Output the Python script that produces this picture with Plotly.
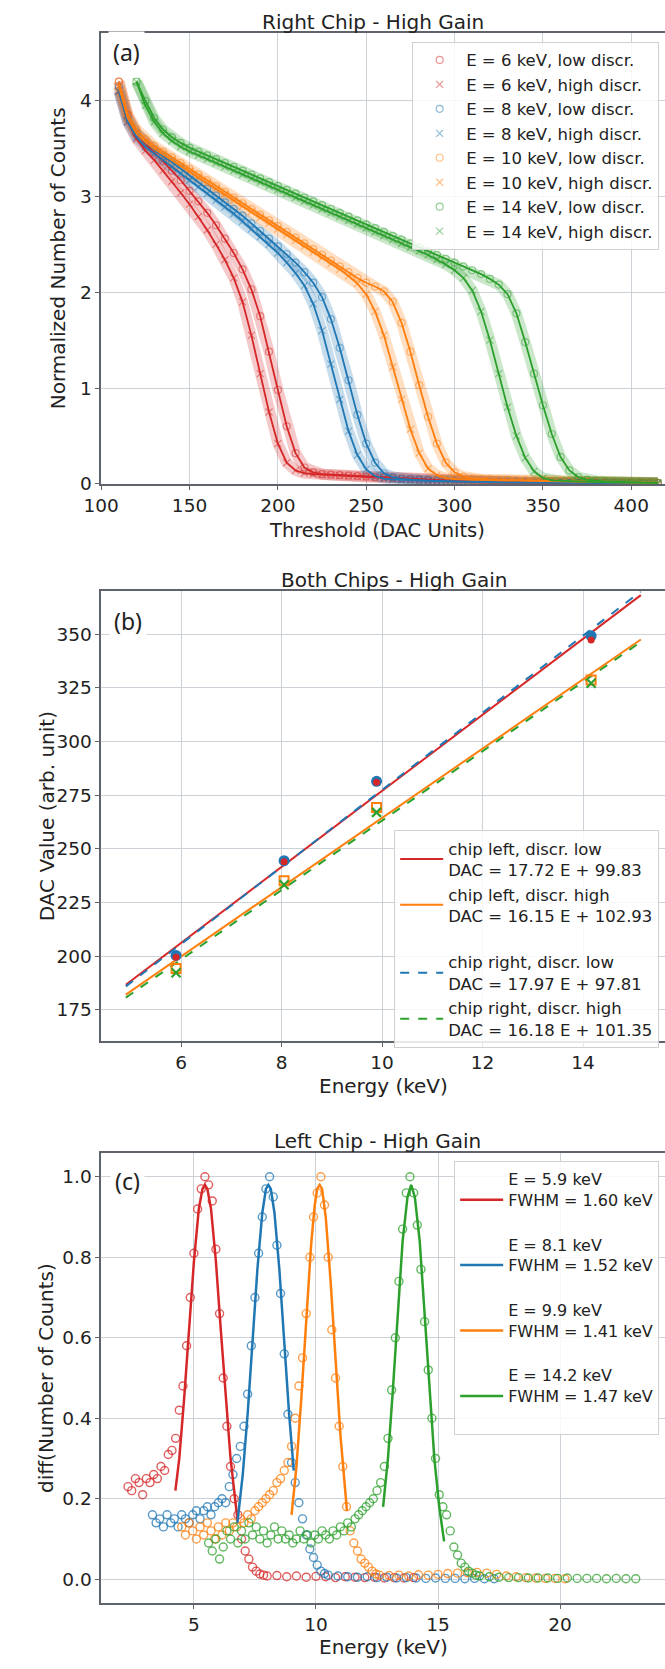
import plotly.graph_objects as go

W, H = 665, 1669
FONT = "DejaVu Sans"
RED, BLUE, ORANGE, GREEN = "#d62728", "#1f77b4", "#ff7f0e", "#2ca02c"

# ---------------- Panel (a): threshold scans, right chip ----------------
DAC = list(range(110, 420, 5))
red_low = [4.20,3.85,3.66,3.55,3.46,3.37,3.27,3.17,3.06,2.95,
           2.83,2.70,2.56,2.41,2.24,2.03,1.75,1.38,0.98,0.60,
           0.32,0.17,0.12,0.10,0.095,0.09,0.085,0.08,0.075,0.07,
           0.065,0.06,0.055,0.05,0.045,0.04,0.035,0.03,0.025,0.02,
           0.018,0.016,0.015,0.014,0.013,0.012,0.012,0.011,0.011,0.01,
           0.01,0.01,0.009,0.009,0.009,0.008,0.008,0.008,0.008,0.007,
           0.007,0.007]
red_high = [4.10,3.78,3.60,3.48,3.38,3.27,3.16,3.04,2.92,2.79,
            2.65,2.50,2.34,2.15,1.90,1.55,1.15,0.75,0.42,0.22,
            0.14,0.11,0.10,0.095,0.09,0.085,0.08,0.075,0.07,0.065,
            0.06,0.055,0.05,0.045,0.04,0.035,0.03,0.025,0.02,0.018,
            0.016,0.015,0.014,0.013,0.012,0.012,0.011,0.011,0.01,0.01,
            0.01,0.009,0.009,0.009,0.008,0.008,0.008,0.008,0.007,0.007,
            0.007,0.007]
blue_low = [4.15,3.82,3.66,3.56,3.49,3.42,3.36,3.29,3.22,3.15,
            3.08,3.01,2.94,2.87,2.80,2.72,2.64,2.56,2.48,2.40,
            2.31,2.21,2.10,1.95,1.72,1.42,1.08,0.72,0.42,0.22,
            0.11,0.07,0.05,0.042,0.038,0.034,0.03,0.027,0.024,0.021,
            0.019,0.017,0.016,0.015,0.014,0.013,0.012,0.011,0.011,0.01,
            0.01,0.009,0.009,0.009,0.008,0.008,0.008,0.007,0.007,0.007,
            0.006,0.006]
blue_high = [4.10,3.78,3.62,3.52,3.45,3.38,3.31,3.24,3.17,3.10,
             3.03,2.96,2.89,2.82,2.74,2.66,2.58,2.50,2.41,2.31,
             2.20,2.07,1.88,1.60,1.25,0.88,0.55,0.30,0.15,0.08,
             0.055,0.045,0.04,0.037,0.034,0.031,0.028,0.025,0.022,0.02,
             0.018,0.016,0.015,0.014,0.013,0.012,0.011,0.011,0.01,0.01,
             0.009,0.009,0.009,0.008,0.008,0.008,0.007,0.007,0.007,0.006,
             0.006,0.006]
orange_low = [4.20,3.86,3.70,3.60,3.53,3.47,3.41,3.35,3.29,3.23,
              3.17,3.11,3.05,2.99,2.93,2.87,2.81,2.75,2.69,2.63,
              2.57,2.51,2.45,2.39,2.33,2.27,2.21,2.15,2.10,2.06,
              2.01,1.90,1.68,1.38,1.03,0.70,0.42,0.22,0.12,0.075,
              0.055,0.048,0.045,0.042,0.04,0.038,0.036,0.034,0.032,0.03,
              0.028,0.026,0.024,0.022,0.02,0.018,0.016,0.015,0.014,0.013,
              0.012,0.011]
orange_high = [4.15,3.82,3.66,3.57,3.50,3.44,3.38,3.32,3.26,3.20,
               3.14,3.08,3.02,2.96,2.90,2.84,2.78,2.72,2.66,2.60,
               2.54,2.48,2.42,2.36,2.30,2.24,2.17,2.09,1.98,1.80,
               1.55,1.22,0.88,0.57,0.32,0.16,0.09,0.06,0.05,0.045,
               0.042,0.04,0.038,0.036,0.034,0.032,0.03,0.028,0.026,0.024,
               0.022,0.02,0.018,0.016,0.015,0.014,0.013,0.012,0.011,0.01,
               0.01,0.009]
green_low = [None,None,4.20,4.00,3.82,3.70,3.62,3.56,3.51,3.47,
             3.43,3.39,3.35,3.31,3.27,3.23,3.19,3.15,3.11,3.07,
             3.03,2.99,2.95,2.91,2.87,2.83,2.79,2.75,2.71,2.67,
             2.63,2.59,2.55,2.51,2.47,2.43,2.39,2.35,2.31,2.27,
             2.23,2.19,2.14,2.08,1.98,1.78,1.48,1.15,0.82,0.52,
             0.28,0.14,0.07,0.04,0.03,0.025,0.021,0.018,0.015,0.013,
             0.011,0.01]
green_high = [None,None,4.20,3.95,3.78,3.66,3.58,3.52,3.47,3.43,
              3.39,3.35,3.31,3.27,3.23,3.19,3.15,3.11,3.07,3.03,
              2.99,2.95,2.91,2.87,2.83,2.79,2.75,2.71,2.67,2.63,
              2.59,2.55,2.51,2.47,2.43,2.39,2.34,2.29,2.23,2.15,
              2.02,1.80,1.50,1.15,0.80,0.50,0.27,0.13,0.06,0.035,
              0.03,0.027,0.024,0.021,0.018,0.016,0.014,0.012,0.011,0.01,
              0.009,0.008]

scan_series = [
    ("E = 6 keV, low discr.", RED, "circle-open", red_low),
    ("E = 6 keV, high discr.", RED, "x-thin-open", red_high),
    ("E = 8 keV, low discr.", BLUE, "circle-open", blue_low),
    ("E = 8 keV, high discr.", BLUE, "x-thin-open", blue_high),
    ("E = 10 keV, low discr.", ORANGE, "circle-open", orange_low),
    ("E = 10 keV, high discr.", ORANGE, "x-thin-open", orange_high),
    ("E = 14 keV, low discr.", GREEN, "circle-open", green_low),
    ("E = 14 keV, high discr.", GREEN, "x-thin-open", green_high),
]
for _, _, _, v in scan_series:
    assert len(v) == len(DAC)

# ---------------- Panel (b): calibration ----------------
E_pts = [5.9, 8.05, 9.89, 14.16]
left_low = [199.5, 244.0, 281.0, 347.4]
right_low = [200.3, 244.5, 281.5, 349.3]
left_high = [194.2, 235.1, 269.3, 328.7]
right_high = [192.2, 233.3, 267.0, 327.2]
fit_E = [4.9, 15.15]
fit_names = ["chip left, discr. low<br>DAC = 17.72 E + 99.83",
             "chip left, discr. high<br>DAC = 16.15 E + 102.93",
             "chip right, discr. low<br>DAC = 17.97 E + 97.81",
             "chip right, discr. high<br>DAC = 16.18 E + 101.35"]
fit_slope = [17.72, 16.15, 17.97, 16.18]
fit_icept = [99.83, 102.93, 97.81, 101.35]

# ---------------- Panel (c): differentiated spectra, left chip ----------------
red_c = [0.23,0.22,0.25,0.24,0.21,0.25,0.24,0.26,0.25,0.28,
         0.27,0.31,0.32,0.35,0.42,0.48,0.58,0.70,0.81,0.92,
         0.97,1.00,0.98,0.94,0.82,0.66,0.50,0.38,0.28,0.20,
         0.16,0.10,0.07,0.05,0.03,0.02,0.013,0.01,0.008]
red_tail = [0.009,0.006,0.008,0.005,0.007,0.006,0.004,0.006,0.005,0.004,
            0.005,0.003,0.004,0.003,0.004]
blue_c = [0.16,0.14,0.15,0.13,0.16,0.14,0.15,0.13,0.16,0.15,
          0.14,0.16,0.17,0.15,0.17,0.18,0.16,0.18,0.19,0.20,
          0.19,0.23,0.26,0.30,0.33,0.38,0.46,0.58,0.70,0.81,
          0.90,0.97,1.00,0.95,0.83,0.71,0.56,0.41,0.29,0.24,
          0.19,0.15,0.11,0.075,0.054,0.035,0.02,0.014,0.01]
blue_tail = [0.008,0.006,0.005,0.006,0.004,0.005,0.003,0.004,0.003,0.002,
             0.003,0.002,0.002,0.001,0.002,0.001,0.001]
orange_c = [0.13,0.11,0.14,0.12,0.10,0.13,0.11,0.14,0.12,0.10,
            0.13,0.11,0.14,0.12,0.14,0.13,0.15,0.14,0.16,0.15,
            0.17,0.18,0.19,0.20,0.21,0.22,0.24,0.25,0.27,0.29,
            0.33,0.40,0.48,0.55,0.66,0.80,0.90,0.96,1.00,0.93,
            0.80,0.62,0.50,0.38,0.28,0.18,0.12,0.09,0.07,0.05,
            0.04,0.03,0.02,0.013,0.01]
orange_tail = [0.009,0.01,0.008,0.011,0.01,0.012,0.014,0.015,0.016,0.017,
               0.015,0.012,0.008,0.006,0.004,0.003,0.002,0.002,0.001]
green_c = [0.09,0.07,0.10,0.05,0.08,0.12,0.10,0.13,0.09,0.12,
           0.10,0.14,0.11,0.13,0.10,0.12,0.09,0.11,0.13,0.10,
           0.12,0.10,0.11,0.09,0.10,0.12,0.10,0.11,0.09,0.11,
           0.10,0.12,0.11,0.10,0.12,0.11,0.13,0.12,0.14,0.13,
           0.15,0.16,0.17,0.18,0.19,0.20,0.22,0.24,0.28,0.35,
           0.47,0.60,0.74,0.87,0.96,1.00,0.96,0.88,0.77,0.64,
           0.52,0.40,0.30,0.21,0.18,0.16,0.12,0.08,0.06,0.04,
           0.03,0.02,0.015,0.01,0.008]
green_tail = [0.006,0.005,0.004,0.004,0.003,0.003,0.003,0.002,0.003,0.002,
              0.002,0.002,0.001,0.002,0.001,0.001]

# gaussian fit curves
red_fit_E = [4.24,4.4,4.6,4.8,5.0,5.2,5.35,5.45,5.55,5.7,5.9,6.1,6.3,6.5,6.78]
red_fit = [0.22,0.30,0.45,0.62,0.79,0.92,0.97,0.98,0.97,0.92,0.79,0.62,0.45,0.30,0.15]
blue_fit_E = [6.78,7.0,7.2,7.4,7.6,7.8,7.95,8.05,8.15,8.3,8.5,8.7,8.9,9.09]
blue_fit = [0.14,0.26,0.41,0.59,0.77,0.91,0.97,0.98,0.97,0.91,0.77,0.59,0.41,0.27]
orange_fit_E = [9.0,9.2,9.4,9.6,9.8,9.95,10.05,10.15,10.25,10.4,10.6,10.8,11.0,11.27]
orange_fit = [0.16,0.28,0.45,0.64,0.83,0.93,0.97,0.98,0.97,0.90,0.74,0.55,0.36,0.17]
green_fit_E = [12.75,12.95,13.15,13.35,13.55,13.75,13.9,14.05,14.25,14.45,14.65,14.85,15.05,15.25]
green_fit = [0.18,0.30,0.47,0.66,0.84,0.95,0.98,0.95,0.84,0.66,0.47,0.30,0.18,0.094]
spec_names = ["E = 5.9 keV<br>FWHM = 1.60 keV<br>\u00a0",
              "E = 8.1 keV<br>FWHM = 1.52 keV<br>\u00a0",
              "E = 9.9 keV<br>FWHM = 1.41 keV<br>\u00a0",
              "E = 14.2 keV<br>FWHM = 1.47 keV<br>\u00a0"]


def grid(start, step, n):
    return [round(start + step * i, 3) for i in range(n)]


def rgba(h, a):
    h = h.lstrip("#")
    return "rgba(%d,%d,%d,%.2f)" % (int(h[0:2], 16), int(h[2:4], 16), int(h[4:6], 16), a)


fig = go.Figure()

# ---- (a) traces
for name, col, sym, vals in scan_series:
    fig.add_trace(go.Scatter(x=DAC, y=vals, mode="lines", xaxis="x", yaxis="y",
                             line=dict(color=rgba(col, 0.25), width=11),
                             showlegend=False, hoverinfo="skip"))
for name, col, sym, vals in scan_series:
    fig.add_trace(go.Scatter(x=DAC, y=vals, mode="markers", xaxis="x", yaxis="y", name=name,
                             marker=dict(symbol=sym, size=7, color=rgba(col, 0.5),
                                         line=dict(width=1.2, color=rgba(col, 0.5))),
                             legend="legend"))
for name, col, sym, vals in scan_series:
    fig.add_trace(go.Scatter(x=DAC, y=vals, mode="lines", xaxis="x", yaxis="y",
                             line=dict(color=col, width=1.8), showlegend=False))

# ---- (b) traces
fit_styles = [(RED, "solid", "L"), (ORANGE, "solid", "L"), (BLUE, "dash", "R"), (GREEN, "dash", "R")]
for i, (col, dash, grp) in enumerate(fit_styles):
    fig.add_trace(go.Scatter(x=fit_E, y=[fit_slope[i] * e + fit_icept[i] for e in fit_E],
                             mode="lines", xaxis="x2", yaxis="y2", name=fit_names[i],
                             line=dict(color=col, width=2, dash=dash),
                             legend="legend2", legendgroup=grp))
fig.add_trace(go.Scatter(x=E_pts, y=right_low, mode="markers", xaxis="x2", yaxis="y2",
                         marker=dict(symbol="circle", size=11, color=BLUE), showlegend=False))
fig.add_trace(go.Scatter(x=E_pts, y=left_low, mode="markers", xaxis="x2", yaxis="y2",
                         marker=dict(symbol="circle", size=7, color=RED), showlegend=False))
fig.add_trace(go.Scatter(x=E_pts, y=left_high, mode="markers", xaxis="x2", yaxis="y2",
                         marker=dict(symbol="square-open", size=9, color=ORANGE, line=dict(width=2)),
                         showlegend=False))
fig.add_trace(go.Scatter(x=E_pts, y=right_high, mode="markers", xaxis="x2", yaxis="y2",
                         marker=dict(symbol="x-thin-open", size=9, color=GREEN, line=dict(width=2.2)),
                         showlegend=False))

# ---- (c) traces
spec = [(RED, 2.3, red_c, 8.4, red_tail, red_fit_E, red_fit),
        (BLUE, 3.3, blue_c, 10.9, blue_tail, blue_fit_E, blue_fit),
        (ORANGE, 4.5, orange_c, 13.0, orange_tail, orange_fit_E, orange_fit),
        (GREEN, 5.6, green_c, 17.1, green_tail, green_fit_E, green_fit)]
for col, s0, main, t0, tail, fe, fv in spec:
    xs = grid(s0, 0.15, len(main)) + grid(t0, 0.4, len(tail))
    fig.add_trace(go.Scatter(x=xs, y=main + tail, mode="markers", xaxis="x3", yaxis="y3",
                             marker=dict(symbol="circle-open", size=8, color=rgba(col, 0.75),
                                         line=dict(width=1.4, color=rgba(col, 0.75))),
                             showlegend=False))
for i, (col, s0, main, t0, tail, fe, fv) in enumerate(spec):
    fig.add_trace(go.Scatter(x=fe, y=fv, mode="lines", xaxis="x3", yaxis="y3",
                             line=dict(color=col, width=2.5), name=spec_names[i],
                             legend="legend3"))

# ---------------- layout ----------------
GRID = "#cdd1d8"
SPINE = "#5f646c"
XL = 85.5 / W
TICKSZ = 18.5


def ydom(top, bot):
    return [1 - bot / H, 1 - top / H]


def axis_common():
    return dict(showgrid=True, gridcolor=GRID, gridwidth=1, zeroline=False,
                showline=True, linecolor=SPINE, linewidth=1.5,
                ticks="outside", ticklen=4, tickcolor=SPINE,
                tickfont=dict(family=FONT, size=TICKSZ, color="#222"))


LEG = dict(bgcolor="rgba(255,255,255,0.85)", bordercolor="#d0d0d0", borderwidth=1,
           itemwidth=43)
fig.update_layout(
    width=W, height=H, margin=dict(l=0, r=0, t=0, b=0),
    paper_bgcolor="white", plot_bgcolor="white",
    xaxis=dict(domain=[XL, 1], range=[100, 419.1], anchor="y", mirror=True,
               tickvals=[100, 150, 200, 250, 300, 350, 400], **axis_common()),
    yaxis=dict(domain=ydom(33, 486.7), range=[0, 4.71], anchor="x",
               tickvals=[0, 1, 2, 3, 4], **axis_common()),
    xaxis2=dict(domain=[XL, 1], range=[4.41, 15.63], anchor="y2", mirror=True,
                tickvals=[6, 8, 10, 12, 14], **axis_common()),
    yaxis2=dict(domain=ydom(595, 1047.3), range=[160.4, 370], anchor="x2",
                tickvals=[175, 200, 225, 250, 275, 300, 325, 350], **axis_common()),
    xaxis3=dict(domain=[XL, 1], range=[1.2, 24.3], anchor="y3", mirror=True,
                tickvals=[5, 10, 15, 20], **axis_common()),
    yaxis3=dict(domain=ydom(1160, 1613), range=[-0.06, 1.059], anchor="x3",
                tickvals=[0, 0.2, 0.4, 0.6, 0.8, 1.0], tickformat=".1f", **axis_common()),
    legend=dict(x=659 / W, xanchor="right", y=1 - 42 / H, yanchor="top",
                font=dict(family=FONT, size=16.5, color="#222"), **LEG),
    legend2=dict(x=659 / W, xanchor="right", y=1 - 835 / H, yanchor="top",
                 tracegroupgap=22, traceorder="grouped",
                 font=dict(family=FONT, size=16.5, color="#222"), **LEG),
    legend3=dict(x=659 / W, xanchor="right", y=1 - 1168 / H, yanchor="top",
                 valign="middle",
                 font=dict(family=FONT, size=16, color="#222"), **LEG),
)


def ann(text, xpx, ypx, size, angle=0, family=FONT, bg=None):
    d = dict(text=text, x=xpx / W, y=1 - ypx / H, xref="paper", yref="paper",
             xanchor="center", yanchor="middle", showarrow=False, textangle=angle,
             font=dict(family=family, size=size, color="#222"))
    if bg:
        d["bgcolor"] = bg
        d["borderpad"] = 4
    return d


annotations = [
    ann("Right Chip - High Gain", 365, 22, 20),
    ann("Both Chips - High Gain", 386, 583, 20),
    ann("Left Chip - High Gain", 369, 1148, 20),
    ann("Threshold (DAC Units)", 369, 534, 19.5),
    ann("Energy (keV)", 376, 1093, 20),
    ann("Energy (keV)", 376, 1657, 20),
    ann("Normalized Number of Counts", 42, 260, 20, angle=-90),
    ann("DAC Value (arb. unit)", 30, 821, 20, angle=-90),
    ann("diff(Number of Counts)", 28, 1386, 20, angle=-90),
    ann("(a)", 112, 52, 23, family="Noto Sans", bg="white"),
    ann("(b)", 113, 625, 23, family="Noto Sans", bg="white"),
    ann("(c)", 113, 1188, 23, family="Noto Sans", bg="white"),
]
fig.update_layout(annotations=annotations)

fig.write_html("out.html", config={"displayModeBar": False},
               post_script="document.body.style.margin='0px';document.body.style.overflow='hidden';")
